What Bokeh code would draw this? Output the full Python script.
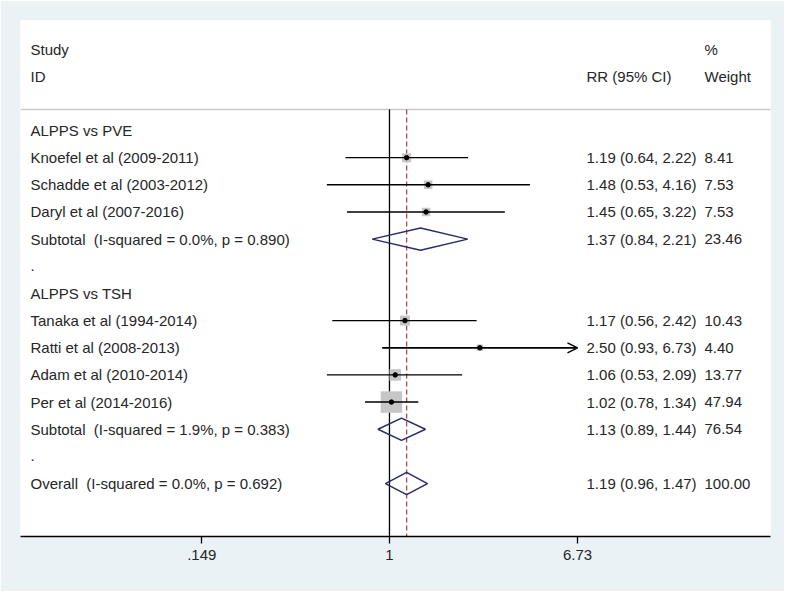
import numpy as np
from bokeh.plotting import figure
from bokeh.models import Range1d, FixedTicker, Arrow, OpenHead, ColumnDataSource
from bokeh.core.properties import value
from bokeh.embed import file_html
from bokeh.resources import INLINE

# ---------------- data ----------------
row_labels = [
    "ALPPS vs PVE",
    "Knoefel et al (2009-2011)",
    "Schadde et al (2003-2012)",
    "Daryl et al (2007-2016)",
    "Subtotal\u00a0 (I-squared = 0.0%, p = 0.890)",
    ".",
    "ALPPS vs TSH",
    "Tanaka et al (1994-2014)",
    "Ratti et al (2008-2013)",
    "Adam et al (2010-2014)",
    "Per et al (2014-2016)",
    "Subtotal\u00a0 (I-squared = 1.9%, p = 0.383)",
    ".",
    "Overall\u00a0 (I-squared = 0.0%, p = 0.692)",
]

study_rows = [1, 2, 3, 7, 8, 9, 10]
study_rr = [1.19, 1.48, 1.45, 1.17, 2.50, 1.06, 1.02]
study_lo = [0.64, 0.53, 0.65, 0.56, 0.93, 0.53, 0.78]
study_hi = [2.22, 4.16, 3.22, 2.42, 6.73, 2.09, 1.34]
study_w = [8.41, 7.53, 7.53, 10.43, 4.40, 13.77, 47.94]

pooled_rows = [4, 11, 13]
pooled_rr = [1.37, 1.13, 1.19]
pooled_lo = [0.84, 0.89, 0.96]
pooled_hi = [2.21, 1.44, 1.47]
pooled_w = [23.46, 76.54, 100.00]

tick_vals = [0.149, 1.0, 6.73]
tick_labels = [".149", "1", "6.73"]

header_left = ["Study", "ID"]
header_rr = "RR (95% CI)"
header_w = ["%", "Weight"]

# ---------------- layout / style ----------------
XLO, XHI = 0.02371, 47.66
YTOP, YBOT = -4.05, 14.95
SEP = -0.77
FONT = value("Liberation Sans")
FS = "15px"
TXT = "#262626"
NAVY = "#272c6c"
RED = "#a84a4a"


def xfrac(f):
    return XLO * (XHI / XLO) ** f


X_LABEL = xfrac(0.0133)
X_RR = xfrac(0.7547)
X_W = xfrac(0.912)
XMAX_CI = max(tick_vals)

p = figure(
    width=784, height=591,
    x_axis_type="log",
    x_range=Range1d(XLO, XHI),
    y_range=Range1d(YBOT, YTOP),
    y_axis_location=None,
    output_backend="svg",
    toolbar_location=None,
    min_border_left=20, min_border_right=14,
    min_border_top=20, min_border_bottom=55,
)
p.background_fill_color = "white"
p.border_fill_color = "#eaf2f5"
p.outline_line_color = None
p.grid.visible = False

ax = p.xaxis[0]
ax.ticker = FixedTicker(ticks=tick_vals)
ax.major_label_overrides = dict(zip(tick_vals, tick_labels))
ax.axis_line_color = "black"
ax.axis_line_width = 1.3
ax.major_tick_line_color = "black"
ax.major_tick_line_width = 1.3
ax.major_tick_out = 7
ax.major_tick_in = 0
ax.minor_tick_line_color = None
ax.major_label_text_font = "Liberation Sans"
ax.major_label_text_font_size = FS
ax.major_label_text_color = TXT
ax.major_label_standoff = 6

# header separator
p.segment(x0=[XLO], y0=[SEP], x1=[XHI], y1=[SEP], line_color="#c9c9c9", line_width=1.5)

# null line and overall line
p.segment(x0=[1.0], y0=[SEP], x1=[1.0], y1=[YBOT], line_color="black", line_width=1.3)
p.segment(x0=[pooled_rr[-1]], y0=[SEP], x1=[pooled_rr[-1]], y1=[YBOT],
          line_color=RED, line_width=1.3, line_dash="5 3")

# study boxes
src = ColumnDataSource(dict(
    y=study_rows, rr=study_rr, lo=study_lo,
    hi=[min(h, XMAX_CI) for h in study_hi],
    size=[3.1 * np.sqrt(w) for w in study_w],
))
p.scatter(x="rr", y="y", source=src, marker="square", size="size",
          fill_color="#c6c6c6", line_color=None)
p.segment(x0="lo", y0="y", x1="hi", y1="y", source=src, line_color="black", line_width=1.4)
p.scatter(x="rr", y="y", source=src, marker="circle", size=4.5,
          fill_color="black", line_color="black")

# arrows for truncated CIs
for r, lo, hi in zip(study_rows, study_lo, study_hi):
    if hi >= XMAX_CI:
        p.add_layout(Arrow(end=OpenHead(size=10, line_width=1.4, line_color="black"),
                           x_start=lo, y_start=r, x_end=XMAX_CI, y_end=r,
                           line_width=1.4, line_color="black"))

# pooled diamonds
H = 0.41
xs = [[lo, rr, hi, rr] for lo, rr, hi in zip(pooled_lo, pooled_rr, pooled_hi)]
ys = [[r, r - H, r, r + H] for r in pooled_rows]
p.patches(xs=xs, ys=ys, fill_color=None, line_color=NAVY, line_width=1.5)

# text columns
tkw = dict(text_font=FONT, text_font_size=FS, text_color=TXT, text_baseline="middle")
p.text(x=[X_LABEL] * len(row_labels), y=list(range(len(row_labels))), text=row_labels, **tkw)
p.text(x=[X_LABEL, X_LABEL], y=[-3, -2], text=header_left, **tkw)
p.text(x=[X_RR], y=[-2], text=[header_rr], **tkw)
p.text(x=[X_W, X_W], y=[-3, -2], text=header_w, **tkw)

all_rows = study_rows + pooled_rows
all_rr = study_rr + pooled_rr
all_lo = study_lo + pooled_lo
all_hi = study_hi + pooled_hi
all_w = study_w + pooled_w
ci_txt = [f"{a:.2f} ({b:.2f}, {c:.2f})" for a, b, c in zip(all_rr, all_lo, all_hi)]
w_txt = [f"{w:.2f}" for w in all_w]
p.text(x=[X_RR] * len(all_rows), y=all_rows, text=ci_txt, **tkw)
p.text(x=[X_W] * len(all_rows), y=all_rows, text=w_txt, **tkw)

open("out.html", "w").write(file_html(p, INLINE))
